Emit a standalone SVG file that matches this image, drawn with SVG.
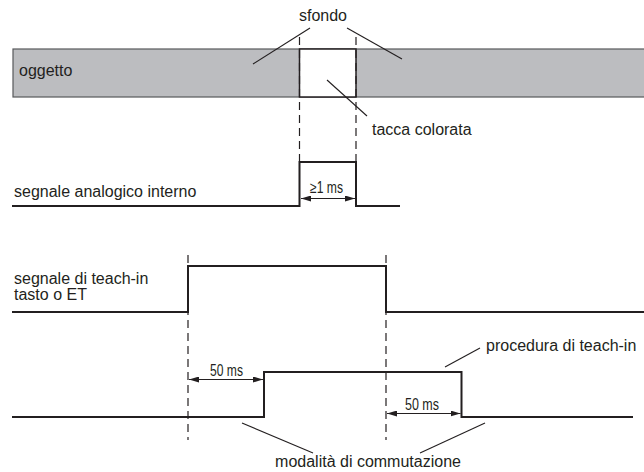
<svg xmlns="http://www.w3.org/2000/svg" width="644" height="472" viewBox="0 0 644 472">
<defs>
<style>
text{font-family:"Liberation Sans",Arial,sans-serif;font-size:16px;fill:#231f20}
.sm{font-size:16px}
.sig{fill:none;stroke:#231f20;stroke-width:2}
.dash{fill:none;stroke:#231f20;stroke-width:1.2;stroke-dasharray:8 5}
.lead{fill:none;stroke:#231f20;stroke-width:1.1}
.dim{fill:none;stroke:#231f20;stroke-width:1;marker-start:url(#ah);marker-end:url(#ah)}
</style>
<marker id="ah" viewBox="0 0 10 6" refX="10" refY="3" markerWidth="10" markerHeight="6" markerUnits="userSpaceOnUse" orient="auto-start-reverse">
<path d="M0,0 L10,3 L0,6 Z" fill="#231f20"/>
</marker>
</defs>
<rect width="644" height="472" fill="#fff"/>
<g id="objekt">
<rect x="13" y="49" width="640" height="48" fill="#bcbdc0" stroke="#58595b" stroke-width="1.2"/>
<rect x="299.5" y="49" width="56.5" height="48" fill="#fff" stroke="#231f20" stroke-width="1.5"/>
<text x="19" y="76">oggetto</text>
</g>
<g id="labels">
<text x="323" y="21" text-anchor="middle">sfondo</text>
<text x="372" y="135">tacca colorata</text>
<text x="14" y="197">segnale analogico interno</text>
<text x="14" y="284">segnale di teach-in</text>
<text x="14" y="300">tasto o ET</text>
<text x="486" y="351">procedura di teach-in</text>
<text x="368" y="467" text-anchor="middle">modalità di commutazione</text>
<text class="sm" x="310" y="193" textLength="33" lengthAdjust="spacingAndGlyphs">≥1 ms</text>
<text class="sm" x="210" y="376" textLength="33" lengthAdjust="spacingAndGlyphs">50 ms</text>
<text class="sm" x="405" y="410" textLength="34" lengthAdjust="spacingAndGlyphs">50 ms</text>
</g>
<g id="connectors">
<line class="dash" x1="299.5" y1="37" x2="299.5" y2="161"/>
<line class="dash" x1="356" y1="37" x2="356" y2="161"/>
<line class="dash" x1="188" y1="255" x2="188" y2="440"/>
<line class="dash" x1="386" y1="255" x2="386" y2="440"/>
<line class="lead" x1="310" y1="28" x2="253" y2="64"/>
<line class="lead" x1="347" y1="28" x2="402" y2="59"/>
<line class="lead" x1="327" y1="80" x2="367" y2="116"/>
<line class="lead" x1="445" y1="367" x2="480" y2="348"/>
<line class="lead" x1="242" y1="423" x2="313" y2="453"/>
<line class="lead" x1="485" y1="423" x2="420" y2="453"/>
<line class="dim" x1="301" y1="198.5" x2="355" y2="198.5"/>
<line class="dim" x1="189" y1="379.5" x2="263" y2="379.5"/>
<line class="dim" x1="387" y1="413.5" x2="460.5" y2="413.5"/>
</g>
<g id="signal-analog">
<polyline class="sig" points="12,206 299.5,206 299.5,162 356,162 356,206 400,206"/>
</g>
<g id="signal-teach">
<polyline class="sig" points="12,312 188,312 188,266 386,266 386,312 644,312"/>
</g>
<g id="signal-switch">
<polyline class="sig" points="12,417 264,417 264,372 461.5,372 461.5,417 633,417"/>
</g>
</svg>
